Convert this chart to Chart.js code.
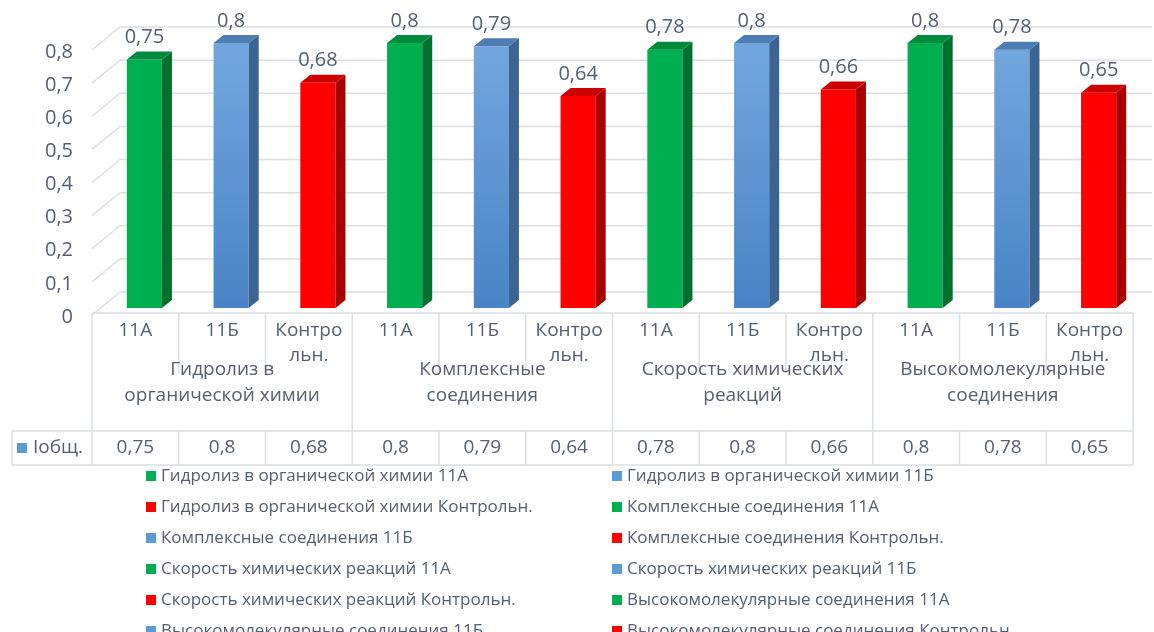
<!DOCTYPE html>
<html>
<head>
<meta charset="utf-8">
<script src="https://cdn.jsdelivr.net/npm/chart.js@4.4.0/dist/chart.umd.min.js"></script>
<style>
    html, body { margin: 0; padding: 0; background: #fff; }
</style>
</head>
<body>
<canvas id="grafico" width="1154" height="632"></canvas>
<script>
// Dados do gráfico
const temas = ['Гидролиз в органической химии', 'Комплексные соединения', 'Скорость химических реакций', 'Высокомолекулярные соединения'];
const temasLinhas = [['Гидролиз в', 'органической химии'], ['Комплексные', 'соединения'], ['Скорость химических', 'реакций'], ['Высокомолекулярные', 'соединения']];
const turmas = ['11А', '11Б', 'Контрольн.'];
const turmasLinhas = [['11А'], ['11Б'], ['Контро', 'льн.']];
const valores = [0.75, 0.8, 0.68, 0.8, 0.79, 0.64, 0.78, 0.8, 0.66, 0.8, 0.78, 0.65];
const nomeSerie = 'Iобщ.';
const yMin = 0;
const yMax = 0.8;
const yPasso = 0.1;

// Estilos
const fonte = '"Open Sans", "DejaVu Sans", sans-serif';
const corTexto = '#556070';
const corGrade = '#dcdfe4';
const coresFrente = ['#00b050', null, '#ff0000'];
const coresLado = ['#00702f', '#3a6592', '#a80000'];
const coresTopo = ['#008a3c', '#4d7db2', '#cc0000'];
const corLegendaAzul = '#5b9bd5';
const prof = { dx: 10, dy: -8 };
const desloc = 9;

const rotulos = [];
temas.forEach(t => turmas.forEach(c => rotulos.push(t + ' ' + c)));

function fmt(v) {
    return v === 0 ? '0' : String(v).replace('.', ',');
}

function corBarra(ctx) {
    const i = ctx.dataIndex % 3;
    if (i !== 1) return coresFrente[i];
    const area = ctx.chart.chartArea;
    if (!area) return '#5b9bd5';
    const g = ctx.chart.ctx.createLinearGradient(0, area.top, 0, area.bottom);
    g.addColorStop(0, '#72a7de');
    g.addColorStop(1, '#4a84c6');
    return g;
}

// Grade 3D (parede do fundo)
const gradePlugin = {
    id: 'grade3d',
    beforeDatasetsDraw(chart) {
        const { ctx, chartArea, scales: { y } } = chart;
        ctx.save();
        ctx.strokeStyle = corGrade;
        ctx.lineWidth = 1.5;
        for (let v = yMin; v <= yMax + 1e-9; v += yPasso) {
            const py = y.getPixelForValue(v);
            ctx.beginPath();
            ctx.moveTo(chartArea.left, py + 7);
            ctx.lineTo(chartArea.left + 28, py - 16);
            ctx.lineTo(1152, py - 16);
            ctx.stroke();
        }
        ctx.restore();
        ctx.save();
        ctx.translate(desloc, 0);
    },
    afterDatasetsDraw(chart) {
        const { ctx } = chart;
        const meta = chart.getDatasetMeta(0);
        meta.data.forEach((bar, i) => {
            const k = i % 3;
            const w = bar.width;
            const l = bar.x - w / 2;
            const r = bar.x + w / 2;
            // lateral
            ctx.fillStyle = coresLado[k];
            ctx.beginPath();
            ctx.moveTo(r, bar.y);
            ctx.lineTo(r + prof.dx, bar.y + prof.dy);
            ctx.lineTo(r + prof.dx, bar.base + prof.dy);
            ctx.lineTo(r, bar.base);
            ctx.closePath();
            ctx.fill();
            // topo
            ctx.fillStyle = coresTopo[k];
            ctx.beginPath();
            ctx.moveTo(l, bar.y);
            ctx.lineTo(l + prof.dx, bar.y + prof.dy);
            ctx.lineTo(r + prof.dx, bar.y + prof.dy);
            ctx.lineTo(r, bar.y);
            ctx.closePath();
            ctx.fill();
            // rótulo de dados
            ctx.fillStyle = corTexto;
            ctx.font = '20px ' + fonte;
            ctx.textAlign = 'center';
            ctx.textBaseline = 'middle';
            ctx.fillText(fmt(valores[i]), bar.x, bar.y - 22);
        });
        ctx.restore();
    }
};

// Tabela de dados + legenda
const tabelaPlugin = {
    id: 'tabela',
    afterDraw(chart) {
        const { ctx, chartArea, scales: { x } } = chart;
        const colW = x.getPixelForValue(1) - x.getPixelForValue(0);
        const esq = chartArea.left;
        const dir = chartArea.right;
        const topo = chartArea.bottom + 5;
        const meio = topo + 60;
        const linhaDados = topo + 118;
        const fundo = topo + 152;
        const esqDados = 12;

        ctx.save();
        ctx.strokeStyle = corGrade;
        ctx.lineWidth = 1.5;
        ctx.beginPath();
        ctx.moveTo(esq, topo); ctx.lineTo(dir, topo);
        ctx.moveTo(esqDados, linhaDados); ctx.lineTo(dir, linhaDados);
        ctx.moveTo(esqDados, fundo); ctx.lineTo(dir, fundo);
        ctx.moveTo(esqDados, linhaDados); ctx.lineTo(esqDados, fundo);
        for (let j = 0; j <= valores.length; j++) {
            const px = esq + j * colW;
            if (j % 3 === 0) {
                ctx.moveTo(px, topo); ctx.lineTo(px, fundo);
            } else {
                ctx.moveTo(px, topo); ctx.lineTo(px, meio);
                ctx.moveTo(px, linhaDados); ctx.lineTo(px, fundo);
            }
        }
        ctx.stroke();

        ctx.fillStyle = corTexto;
        ctx.font = '19px ' + fonte;
        ctx.textAlign = 'center';
        ctx.textBaseline = 'middle';
        valores.forEach((v, i) => {
            const cx = x.getPixelForValue(i);
            turmasLinhas[i % 3].forEach((t, n) => ctx.fillText(t, cx, topo + 18 + n * 25));
            ctx.fillText(fmt(v), cx, (linhaDados + fundo) / 2);
        });
        temasLinhas.forEach((linhas, g) => {
            const cx = esq + (g * 3 + 1.5) * colW;
            linhas.forEach((t, n) => ctx.fillText(t, cx, meio - 3 + n * 26));
        });
        ctx.fillStyle = corLegendaAzul;
        ctx.fillRect(17, (linhaDados + fundo) / 2 - 5, 10, 10);
        ctx.fillStyle = corTexto;
        ctx.textAlign = 'left';
        ctx.fillText(nomeSerie, 33, (linhaDados + fundo) / 2);

        // legenda
        ctx.font = '17px ' + fonte;
        const colX = [146, 612];
        rotulos.forEach((r, i) => {
            const lx = colX[i % 2];
            const ly = fundo + 11 + Math.floor(i / 2) * 31;
            ctx.fillStyle = i % 3 === 1 ? corLegendaAzul : coresFrente[i % 3];
            ctx.fillRect(lx, ly - 5, 10, 10);
            ctx.fillStyle = corTexto;
            ctx.fillText(r, lx + 15, ly);
        });
        ctx.restore();
    }
};

new Chart(document.getElementById('grafico'), {
    type: 'bar',
    data: {
        labels: rotulos,
        datasets: [{
            label: nomeSerie,
            data: valores,
            backgroundColor: corBarra,
            borderWidth: 0,
            barPercentage: 0.5,
            categoryPercentage: 0.81
        }]
    },
    options: {
        responsive: false,
        animation: false,
        devicePixelRatio: 1,
        layout: { padding: { left: 0, top: 43, right: 21, bottom: 324 } },
        plugins: {
            legend: { display: false },
            tooltip: { enabled: false }
        },
        scales: {
            x: { display: false },
            y: {
                min: yMin,
                max: yMax,
                afterFit(s) { s.width = 92; },
                grid: { display: false },
                border: { display: false },
                ticks: {
                    stepSize: yPasso,
                    padding: 11,
                    labelOffset: 9,
                    color: corTexto,
                    font: { family: fonte, size: 20 },
                    callback: v => fmt(Math.round(v * 10) / 10)
                }
            }
        }
    },
    plugins: [gradePlugin, tabelaPlugin]
});
</script>
</body>
</html>
